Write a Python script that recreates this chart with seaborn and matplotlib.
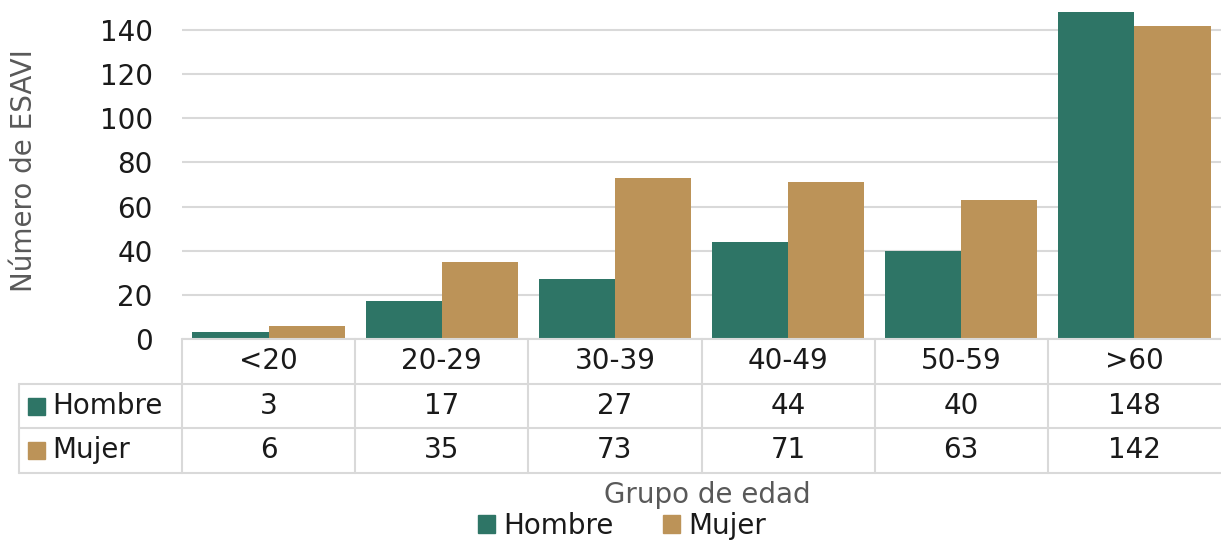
import numpy as np
import pandas as pd
import seaborn as sns
import matplotlib.pyplot as plt
from matplotlib.lines import Line2D
from matplotlib.patches import Rectangle
from matplotlib.transforms import blended_transform_factory

groups = ['<20', '20-29', '30-39', '40-49', '50-59', '>60']
series = ['Hombre', 'Mujer']
hombre = [3, 17, 27, 44, 40, 148]
mujer = [6, 35, 73, 71, 63, 142]
colors = ['#2E7566', '#BC9358']
yticks = [0, 20, 40, 60, 80, 100, 120, 140]

df = pd.DataFrame({
    'Grupo': groups * 2,
    'Sexo': ['Hombre'] * len(groups) + ['Mujer'] * len(groups),
    'ESAVI': hombre + mujer,
})

sns.set_theme(style='white')
plt.rcParams['font.family'] = ['DejaVu Sans']

W, H = 1221, 542
fig = plt.figure(figsize=(W / 100, H / 100), dpi=100)


def fx(px):
    return px / W


def fy(py):
    return 1 - py / H


grid_col = '#d9d9d9'
txt_col = '#1a1a1a'
lab_col = '#595959'
fs = 20

ax = fig.add_axes([fx(182), fy(339), fx(1221) - fx(182), fy(0) - fy(339)])
sns.barplot(data=df, x='Grupo', y='ESAVI', hue='Sexo', hue_order=series,
            palette=colors, width=0.88, gap=0, saturation=1, legend=False,
            linewidth=0, ax=ax)
ax.set_xlim(-0.5, len(groups) - 0.5)
ax.set_ylim(0, 153.6)
ax.set_yticks(yticks)
ax.yaxis.grid(True, color=grid_col, lw=1.5)
ax.set_axisbelow(True)
ax.set_xlabel('')
ax.set_ylabel('')
ax.set_xticklabels([])
ax.tick_params(axis='x', length=0)
ax.tick_params(axis='y', length=0, pad=21, labelsize=fs, labelcolor=txt_col)
for s in ax.spines.values():
    s.set_visible(False)

fig.text(fx(24), fy(171), 'Número de ESAVI', rotation=90, ha='center', va='center',
         fontsize=fs, color=lab_col)

# data table under the axis
trans = blended_transform_factory(ax.transData, fig.transFigure)
row_y = [fy(339), fy(384), fy(428), fy(473)]
line_kw = dict(color=grid_col, lw=1.5, clip_on=False)

fig.add_artist(Line2D([fx(182), fx(1221)], [row_y[0]] * 2, transform=fig.transFigure, **line_kw))
for y in row_y[1:]:
    fig.add_artist(Line2D([fx(19), fx(1221)], [y, y], transform=fig.transFigure, **line_kw))
fig.add_artist(Line2D([fx(19), fx(19)], [row_y[1], row_y[3]], transform=fig.transFigure, **line_kw))
for b in np.arange(-0.5, len(groups) - 1):
    fig.add_artist(Line2D([b, b], [row_y[0], row_y[3]], transform=trans, **line_kw))

for i, g in enumerate(groups):
    fig.text(i, fy(361), g, transform=trans, ha='center', va='center', fontsize=fs, color=txt_col)
    fig.text(i, fy(406), str(hombre[i]), transform=trans, ha='center', va='center',
             fontsize=fs, color=txt_col)
    fig.text(i, fy(450), str(mujer[i]), transform=trans, ha='center', va='center',
             fontsize=fs, color=txt_col)

for name, col, yc in zip(series, colors, [406, 450]):
    fig.add_artist(Rectangle((fx(28), fy(yc + 8.5)), fx(17), 17 / H, color=col,
                             transform=fig.transFigure))
    fig.text(fx(52), fy(yc), name, ha='left', va='center', fontsize=fs, color=txt_col)

fig.text(fx(707), fy(495), 'Grupo de edad', ha='center', va='center', fontsize=fs, color=lab_col)

handles = [Rectangle((0, 0), 1, 1, color=c) for c in colors]
fig.legend(handles, series, loc='center', bbox_to_anchor=(fx(622), fy(526)), ncol=2,
           frameon=False, fontsize=fs, handlelength=0.6, handleheight=0.6,
           handletextpad=0.3, columnspacing=1.8, labelcolor=txt_col)

fig.savefig('out.png', dpi=100)
